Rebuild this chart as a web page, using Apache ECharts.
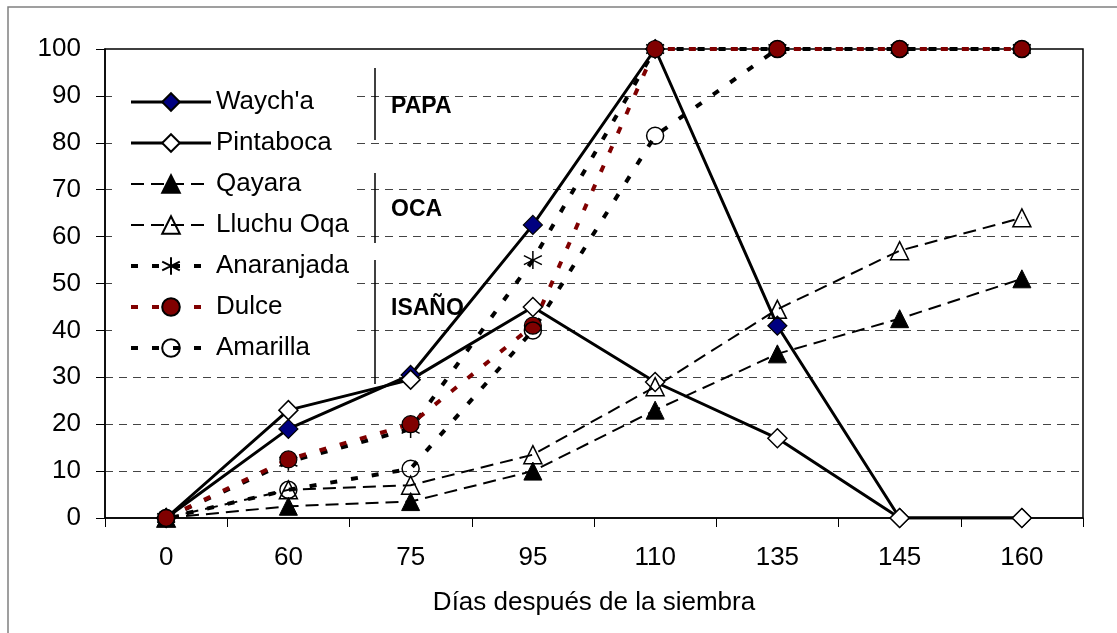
<!DOCTYPE html>
<html>
<head>
<meta charset="utf-8">
<script src="https://cdn.jsdelivr.net/npm/echarts@6/dist/echarts.min.js"></script>
<style>html,body{margin:0;padding:0;background:#fff;}#c{width:1117px;height:633px;}</style>
</head>
<body>
<div id="c"></div>
<script>
const categories = ['0', '60', '75', '95', '110', '135', '145', '160'];
const waycha     = [0, 19, 30.5, 62.5, 100, 41, 0, 0];
const pintaboca  = [0, 23, 29.5, 45, 29, 17, 0, 0];
const qayara     = [0, 2.5, 3.5, 10, 23, 35, 42.5, 51];
const lluchuOqa  = [0, 6, 7, 13.5, 28, 44.5, 57, 64];
const anaranjada = [0, 12, 19, 55, 100, 100, 100, 100];
const dulce      = [0, 12.5, 20, 41, 100, 100, 100, 100];
const amarilla   = [0, 6, 10.5, 40, 81.5, 100, 100, 100];
const yTicks = [0, 10, 20, 30, 40, 50, 60, 70, 80, 90, 100];
const groups = [
  {name: 'PAPA', y0: 68, y1: 140, ty: 108},
  {name: 'OCA', y0: 173, y1: 243, ty: 211},
  {name: 'ISAÑO', y0: 260, y1: 384, ty: 310}
];

const FONT = '"Liberation Sans", Arial, sans-serif';
const chart = echarts.init(document.getElementById('c'), null, {renderer: 'canvas'});

function mk(name, data, o) {
  return Object.assign({
    name: name, type: 'line', data: data, animation: false,
    emphasis: {disabled: true}, z: 3
  }, o);
}
const starPath = 'path://M10,0L10,20M1.5,5L18.5,15M1.5,15L18.5,5';

const S = {
  waycha:  {symbol: 'diamond', symbolSize: 19, itemStyle: {color: '#000080', borderColor: '#000', borderWidth: 1.2}, lineStyle: {color: '#000', width: 3}},
  pinta:   {symbol: 'diamond', symbolSize: 19, itemStyle: {color: '#fff', borderColor: '#000', borderWidth: 1.5}, lineStyle: {color: '#000', width: 3}},
  qayara:  {symbol: 'triangle', symbolSize: 18, itemStyle: {color: '#000', borderColor: '#000', borderWidth: 1}, lineStyle: {color: '#000', width: 2, type: [13, 7]}},
  lluchu:  {symbol: 'triangle', symbolSize: 18, itemStyle: {color: 'rgba(255,255,255,0)', borderColor: '#000', borderWidth: 1.5}, lineStyle: {color: '#000', width: 2, type: [13, 7]}},
  anar:    {symbol: starPath, symbolSize: 18, itemStyle: {color: 'rgba(0,0,0,0)', borderColor: '#000', borderWidth: 1.5}, lineStyle: {color: '#000', width: 4, type: [7, 14]}},
  dulce:   {symbol: 'circle', symbolSize: 17, itemStyle: {color: '#800000', borderColor: '#000', borderWidth: 1.2}, lineStyle: {color: '#800000', width: 4, type: [7, 14]}},
  amar:    {symbol: 'circle', symbolSize: 17, itemStyle: {color: 'rgba(255,255,255,0)', borderColor: '#000', borderWidth: 1.5}, lineStyle: {color: '#000', width: 4, type: [7, 14]}}
};
const legendNames = ["Waych'a", 'Pintaboca', 'Qayara', 'Lluchu Oqa', 'Anaranjada', 'Dulce', 'Amarilla'];
const keys = ['waycha', 'pinta', 'qayara', 'lluchu', 'anar', 'dulce', 'amar'];

const option = {
  animation: false,
  grid: {left: 105, right: 34, top: 49, bottom: 115, show: true, borderColor: '#000', borderWidth: 1.5, backgroundColor: 'transparent'},
  graphic: [
    {type: 'rect', shape: {x: 8, y: 7, width: 1200, height: 700}, style: {fill: 'none', stroke: '#808080', lineWidth: 1.5}, silent: true, z: 0}
  ].concat(groups.map(g => ({type: 'line', shape: {x1: 375, y1: g.y0, x2: 375, y2: g.y1}, style: {stroke: '#000', lineWidth: 1.5}, z: 10})))
   .concat(groups.map(g => ({type: 'text', left: 391, top: g.ty - 13, style: {text: g.name, font: 'bold 23px ' + FONT, fill: '#000'}, z: 10}))),
  legend: {
    orient: 'vertical', left: 112, top: 60,
    padding: [29, 7, 8, 17],
    backgroundColor: '#fff',
    itemWidth: 80, itemHeight: 22, itemGap: 15,
    selectedMode: false,
    textStyle: {fontFamily: FONT, fontSize: 26, color: '#000', lineHeight: 26},
    data: legendNames.map((n, i) => ({name: n, lineStyle: {width: S[keys[i]].lineStyle.width}}))
  },
  xAxis: {
    type: 'category', data: categories, boundaryGap: true,
    axisLine: {lineStyle: {color: '#000', width: 1.5}},
    axisTick: {show: true, length: 9, lineStyle: {color: '#000', width: 1}},
    axisLabel: {fontFamily: FONT, fontSize: 26, color: '#000', margin: 27},
    name: 'Días después de la siembra', nameLocation: 'middle', nameGap: 72,
    nameTextStyle: {fontFamily: FONT, fontSize: 26, color: '#000'}
  },
  yAxis: {
    type: 'value', min: 0, max: 100, interval: 10,
    axisLine: {show: true, lineStyle: {color: '#000', width: 1.5}},
    axisTick: {show: true, length: 9, lineStyle: {color: '#000', width: 1}},
    axisLabel: {fontFamily: FONT, fontSize: 26, color: '#000', margin: 24,
      formatter: v => yTicks.indexOf(v) >= 0 ? String(v) : ''},
    splitLine: {show: true, showMinLine: false, showMaxLine: false, lineStyle: {color: '#444', width: 1.2, type: [8, 6]}}
  },
  series: [
    mk("Waych'a", waycha, S.waycha),
    mk('Pintaboca', pintaboca, S.pinta),
    mk('Qayara', qayara, S.qayara),
    mk('Lluchu Oqa', lluchuOqa, S.lluchu),
    mk('Anaranjada', anaranjada, S.anar),
    mk('Dulce', dulce, S.dulce),
    mk('Amarilla', amarilla, S.amar)
  ]
};
chart.setOption(option);
</script>
</body>
</html>
